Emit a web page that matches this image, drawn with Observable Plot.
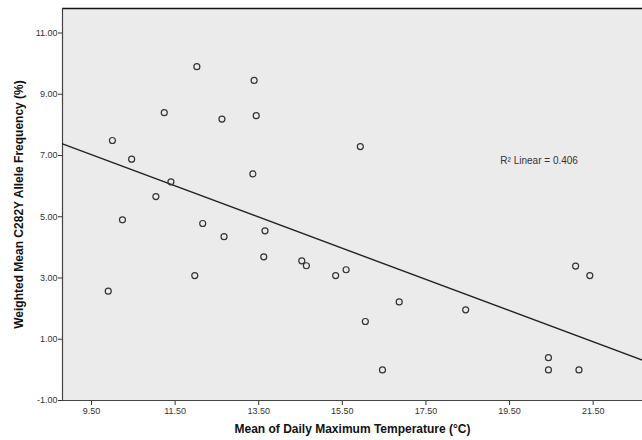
<!DOCTYPE html>
<html>
<head>
<meta charset="utf-8">
<script src="https://cdn.jsdelivr.net/npm/d3@7"></script>
<script src="https://cdn.jsdelivr.net/npm/@observablehq/plot@0.6"></script>
<style>
  html, body { margin: 0; padding: 0; background: #fff; }
  svg { font-family: "Liberation Sans", Arial, sans-serif; }
</style>
</head>
<body>
<div id="chart"></div>
<script>
// Mean of daily maximum temperature (°C)
const temperature = [12.02, 13.39, 11.24, 12.62, 13.44, 10.00, 10.46, 13.36, 11.40, 11.04,
  10.24, 15.93, 12.16, 12.67, 13.65, 13.62, 11.97, 9.90, 14.53, 14.64,
  15.34, 15.59, 16.05, 16.86, 16.46, 18.45, 20.43, 20.43, 21.16, 21.08, 21.42];
// Weighted mean C282Y allele frequency (%)
const frequency = [9.90, 9.45, 8.40, 8.19, 8.30, 7.49, 6.88, 6.40, 6.14, 5.66,
  4.90, 7.29, 4.78, 4.35, 4.54, 3.69, 3.08, 2.57, 3.56, 3.40,
  3.08, 3.27, 1.58, 2.22, 0.00, 1.96, 0.40, 0.00, 0.00, 3.39, 3.08];

const xTicks = [9.5, 11.5, 13.5, 15.5, 17.5, 19.5, 21.5];
const yTicks = [-1, 1, 3, 5, 7, 9, 11];
const xDomain = [8.806, 22.68];
const yDomain = [-1.0, 11.8];

// Fit line
const fitIntercept = 11.86;
const fitSlope = -0.509;
const r2Label = "R\u00B2 Linear = 0.406";
const r2Pos = {x: 19.28, y: 6.83};

const points = temperature.map((t, i) => ({t, f: frequency[i]}));
const fitLine = xDomain.map(t => ({t, f: fitIntercept + fitSlope * t}));

const chart = Plot.plot({
  width: 642,
  height: 440,
  marginLeft: 62,
  marginRight: 0,
  marginTop: 8,
  marginBottom: 40,
  style: {fontSize: "9px", color: "#333", background: "#fff"},
  x: {domain: xDomain, ticks: xTicks, tickFormat: d => d.toFixed(2), tickSize: 5, tickPadding: 2, label: null},
  y: {domain: yDomain, ticks: yTicks, tickFormat: d => d.toFixed(2), tickSize: 4, tickPadding: 1, label: null},
  marks: [
    Plot.frame({fill: "#ebebeb", stroke: null}),
    Plot.ruleY([yDomain[1]], {stroke: "#111", strokeWidth: 1.5}),
    Plot.ruleY([yDomain[0]], {stroke: "#444", strokeWidth: 1.2}),
    Plot.ruleX([xDomain[0]], {stroke: "#444", strokeWidth: 1.2}),
    Plot.line(fitLine, {x: "t", y: "f", stroke: "#222", strokeWidth: 1.4}),
    Plot.dot(points, {x: "t", y: "f", r: 3, stroke: "#333", strokeWidth: 1.2, fill: "none"}),
    Plot.text([r2Label], {x: r2Pos.x, y: r2Pos.y, text: d => d, textAnchor: "start", fontSize: 10, fill: "#333"}),
    Plot.text(["Mean of Daily Maximum Temperature (\u00B0C)"], {frameAnchor: "bottom", dy: 32, text: d => d, fontSize: 12, fontWeight: "bold", fill: "#111"}),
    Plot.text(["Weighted Mean C282Y Allele Frequency (%)"], {frameAnchor: "left", textAnchor: "middle", dx: -43, rotate: -90, text: d => d, fontSize: 12, fontWeight: "bold", fill: "#111"})
  ]
});
document.getElementById("chart").appendChild(chart);
</script>
</body>
</html>
